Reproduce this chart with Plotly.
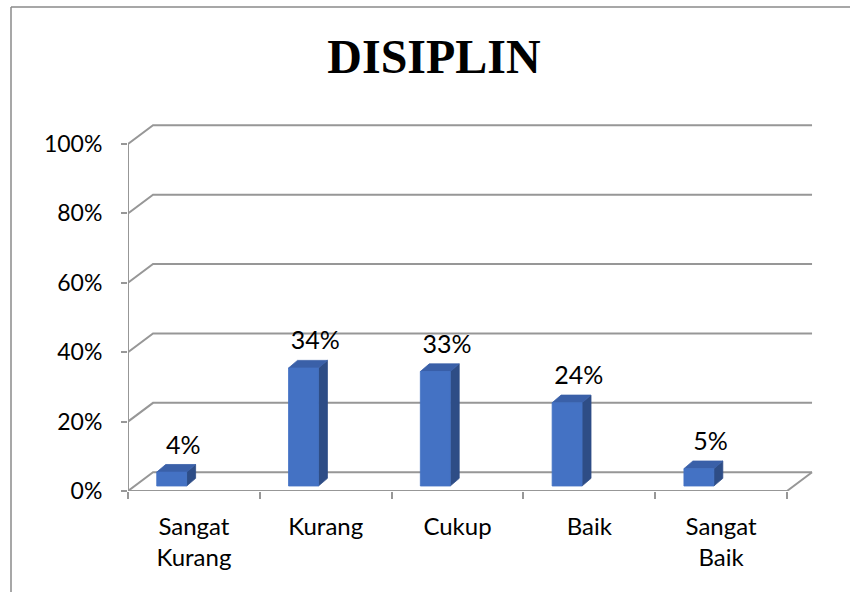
import plotly.graph_objects as go

# ---------------- data ----------------
categories = ["Sangat<br>Kurang", "Kurang", "Cukup", "Baik", "Sangat<br>Baik"]
values = [4, 34, 33, 24, 5]
y_ticks = [0, 20, 40, 60, 80, 100]
y_tick_labels = ["0%", "20%", "40%", "60%", "80%", "100%"]
title_text = "DISIPLIN"

# ---------------- style / geometry ----------------
W, H = 850, 592
ML, MR, MT, MB = 128, 10, 100, 101
PX_PER_CAT = 131.8
PX_PER_PCT = 3.47
plot_w = W - ML - MR
plot_h = H - MT - MB
x_range = [0, plot_w / PX_PER_CAT]
y_range = [0, plot_h / PX_PER_PCT]

DEPTH_DX = 0.19      # wall depth offset in category units
DEPTH_DY = 5.4       # wall depth offset in percent units
BAR_L, BAR_R = 0.218, 0.445
BAR_BASE = 1.44
SIDE_DX, SIDE_DY = 0.068, 2.2
GRID = "#979797"
FRONT_C, SIDE_C, TOP_C = "#4472C4", "#2E4D86", "#3A60A8"
n = len(categories)

fig = go.Figure()

# walls / gridlines
gx, gy = [], []
for t in y_ticks:
    gx += [0, DEPTH_DX, n + DEPTH_DX, None]
    gy += [t, t + DEPTH_DY, t + DEPTH_DY, None]
# front vertical axis edge
gx += [0, 0, None]
gy += [y_ticks[0], y_ticks[-1], None]
# floor front edge and right diagonal
gx += [0, n, n + DEPTH_DX, None]
gy += [0, 0, DEPTH_DY, None]
fig.add_trace(go.Scatter(x=gx, y=gy, mode="lines",
                         line=dict(color=GRID, width=2),
                         hoverinfo="skip", showlegend=False))

# bars (pseudo-3D)
fx, fy, sx, sy, tx, ty = [], [], [], [], [], []
for i, v in enumerate(values):
    l, r = i + BAR_L, i + BAR_R
    b, top = BAR_BASE, BAR_BASE + v
    fx += [l, r, r, l, l, None]
    fy += [b, b, top, top, b, None]
    sx += [r, r + SIDE_DX, r + SIDE_DX, r, r, None]
    sy += [b, b + SIDE_DY, top + SIDE_DY, top, b, None]
    tx += [l, r, r + SIDE_DX, l + SIDE_DX, l, None]
    ty += [top, top, top + SIDE_DY, top + SIDE_DY, top, None]

for xs, ys, c in [(sx, sy, SIDE_C), (tx, ty, TOP_C), (fx, fy, FRONT_C)]:
    fig.add_trace(go.Scatter(x=xs, y=ys, mode="lines", fill="toself",
                             fillcolor=c, line=dict(color=c, width=0.8),
                             hoverinfo="skip", showlegend=False))

# data labels
fig.add_trace(go.Scatter(
    x=[i + 0.42 for i in range(n)],
    y=[v + 8.6 for v in values],
    mode="text",
    text=[f"{v}%" for v in values],
    textposition="middle center",
    textfont=dict(family="Lato", size=25, color="black"),
    hoverinfo="skip", showlegend=False, cliponaxis=False))

fig.update_layout(
    width=W, height=H,
    margin=dict(l=ML, r=MR, t=MT, b=MB),
    paper_bgcolor="white", plot_bgcolor="white",
    title=dict(text=f"<b>{title_text}</b>", xref="container", yref="container",
               x=434 / W, y=1 - 56 / H, xanchor="center", yanchor="middle",
               font=dict(family="Liberation Serif", size=48, color="black")),
    showlegend=False,
    xaxis=dict(range=x_range, showgrid=False, zeroline=False, showline=False,
               tickvals=[i + 0.5 for i in range(n)], ticktext=categories,
               ticks="", ticklabelstandoff=19,
               tickfont=dict(family="Lato", size=24, color="black"),
               minor=dict(tickvals=list(range(n + 1)), ticks="outside",
                          ticklen=7, tickwidth=2, tickcolor=GRID),
               fixedrange=True),
    yaxis=dict(range=y_range, showgrid=False, zeroline=False, showline=False,
               tickvals=y_ticks, ticktext=y_tick_labels,
               ticks="outside", ticklen=6, tickwidth=2, tickcolor=GRID,
               ticklabelstandoff=14,
               tickfont=dict(family="Lato", size=23, color="black"),
               fixedrange=True),
)

# chart outer border (top and left edges)
bx = (11 - ML) / plot_w
by = (H - MB - 7) / plot_h
fig.add_shape(type="line", xref="paper", yref="paper",
              x0=bx, y0=by, x1=(W - ML) / plot_w + 0.01, y1=by,
              line=dict(color="#8a8a8a", width=1.5))
fig.add_shape(type="line", xref="paper", yref="paper",
              x0=bx, y0=by, x1=bx, y1=-MB / plot_h - 0.01,
              line=dict(color="#8a8a8a", width=1.5))

fig.write_html("out.html",
               config={"displayModeBar": False},
               post_script="document.body.style.margin='0px';document.body.style.overflow='hidden';")
